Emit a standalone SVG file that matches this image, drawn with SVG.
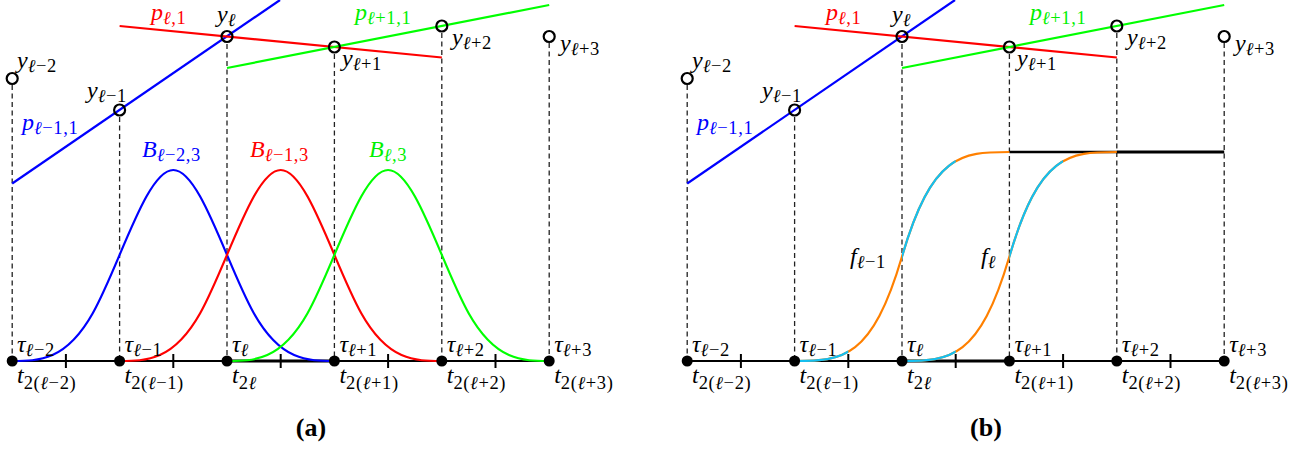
<svg xmlns="http://www.w3.org/2000/svg" xmlns:xlink="http://www.w3.org/1999/xlink" width="1307" height="450" viewBox="0 0 1307 450">
<style>
.t{font-family:"Liberation Serif","DejaVu Serif",serif;font-size:24px;fill:#000}
.i{font-style:italic}
.s{font-size:18.5px;letter-spacing:0.6px}
.bl{fill:#0000ff}.rd{fill:#ff0000}.gr{fill:#00f000}
.cap{font-family:"Liberation Serif","DejaVu Serif",serif;font-size:26px;font-weight:bold;text-anchor:middle}
.dash{stroke:#222;stroke-width:1.3;stroke-dasharray:5 3.5;fill:none}
.ln{fill:none;stroke-width:2.2}
.cb{stroke:#0000ff}.cr{stroke:#ff0000}.cg{stroke:#00ff00}
.co{stroke:#ff8000}.cc{stroke:#14bff0}
.ax{stroke:#000;stroke-width:1.8}
.axt{stroke:#000;stroke-width:3.2}
.tk{stroke:#000;stroke-width:2}
.dot{fill:#000}
.pt{fill:none;stroke:#000;stroke-width:2.2}
</style>
<defs>
<path id="bs" fill="none" d="M0,361 C26.85,361 53.7,361 80.55,313.25 C107.4,265.5 134.25,170 161.1,170 C187.95,170 214.8,265.5 241.65,313.25 C268.5,361 295.35,361 322.2,361"/>
<path id="fc" fill="none" d="M0,361 C48.33,361 77.33,358.91 107.4,256.5 C137.47,154.09 166.47,152 214.8,152"/>
<clipPath id="cy" clipPathUnits="userSpaceOnUse">
<rect x="-5" y="0" width="58.7" height="450"/>
<rect x="107.4" y="0" width="53.7" height="450"/>
</clipPath>
<g id="frame">
<g id="dashes">
<line class="dash" x1="12.2" y1="85" x2="12.2" y2="361"/>
<line class="dash" x1="119.6" y1="117" x2="119.6" y2="361"/>
<line class="dash" x1="227" y1="44" x2="227" y2="361"/>
<line class="dash" x1="334.4" y1="54" x2="334.4" y2="361"/>
<line class="dash" x1="441.8" y1="33" x2="441.8" y2="361"/>
<line class="dash" x1="549.2" y1="43" x2="549.2" y2="361"/>
</g>
<g id="polys">
<line class="ln cb" x1="12.2" y1="183.5" x2="280" y2="0"/>
<line class="ln cr" x1="119.6" y1="26" x2="441.8" y2="57.5"/>
<line class="ln cg" x1="227" y1="68" x2="549.2" y2="5"/>
</g>
<g id="axis">
<line class="ax" x1="12.2" y1="361" x2="227" y2="361"/>
<line class="axt" x1="227" y1="361" x2="334.4" y2="361"/>
<line class="ax" x1="334.4" y1="361" x2="549.2" y2="361"/>
<line class="tk" x1="65.9" y1="354" x2="65.9" y2="368"/>
<line class="tk" x1="173.3" y1="354" x2="173.3" y2="368"/>
<line class="tk" x1="280.7" y1="354" x2="280.7" y2="368"/>
<line class="tk" x1="388.1" y1="354" x2="388.1" y2="368"/>
<line class="tk" x1="495.5" y1="354" x2="495.5" y2="368"/>
</g>
</g>
<g id="frametop">
<g id="knots">
<circle class="dot" cx="12.2" cy="361" r="5.5"/>
<circle class="dot" cx="119.6" cy="361" r="5.5"/>
<circle class="dot" cx="227" cy="361" r="5.5"/>
<circle class="dot" cx="334.4" cy="361" r="5.5"/>
<circle class="dot" cx="441.8" cy="361" r="5.5"/>
<circle class="dot" cx="549.2" cy="361" r="5.5"/>
</g>
<g id="data">
<circle class="pt" cx="12.2" cy="78.5" r="5.5"/>
<circle class="pt" cx="119.6" cy="110" r="5.5"/>
<circle class="pt" cx="227" cy="36.5" r="5.5"/>
<circle class="pt" cx="334.4" cy="47" r="5.5"/>
<circle class="pt" cx="441.8" cy="26" r="5.5"/>
<circle class="pt" cx="549.2" cy="36.5" r="5.5"/>
</g>
<g id="labels">
<text class="t rd" x="151" y="20"><tspan class="i">p</tspan><tspan class="s" dy="4"><tspan class="i">ℓ</tspan>,1</tspan></text>
<text class="t" x="217" y="22"><tspan class="i">y</tspan><tspan class="s i" dy="4">ℓ</tspan></text>
<text class="t gr" x="355" y="20"><tspan class="i">p</tspan><tspan class="s" dy="4"><tspan class="i">ℓ</tspan>+1,1</tspan></text>
<text class="t" x="342" y="66"><tspan class="i">y</tspan><tspan class="s" dy="4"><tspan class="i">ℓ</tspan>+1</tspan></text>
<text class="t" x="452" y="45"><tspan class="i">y</tspan><tspan class="s" dy="4"><tspan class="i">ℓ</tspan>+2</tspan></text>
<text class="t" x="560" y="51"><tspan class="i">y</tspan><tspan class="s" dy="4"><tspan class="i">ℓ</tspan>+3</tspan></text>
<text class="t" x="17" y="68"><tspan class="i">y</tspan><tspan class="s" dy="4"><tspan class="i">ℓ</tspan>−2</tspan></text>
<text class="t" x="87" y="98"><tspan class="i">y</tspan><tspan class="s" dy="4"><tspan class="i">ℓ</tspan>−1</tspan></text>
<text class="t bl" x="22" y="130"><tspan class="i">p</tspan><tspan class="s" dy="4"><tspan class="i">ℓ</tspan>−1,1</tspan></text>
<text class="t" x="17" y="352"><tspan class="i">τ</tspan><tspan class="s" dy="4"><tspan class="i">ℓ</tspan>−2</tspan></text>
<text class="t" x="124.6" y="352"><tspan class="i">τ</tspan><tspan class="s" dy="4"><tspan class="i">ℓ</tspan>−1</tspan></text>
<text class="t" x="232" y="352"><tspan class="i">τ</tspan><tspan class="s i" dy="4">ℓ</tspan></text>
<text class="t" x="339.4" y="352"><tspan class="i">τ</tspan><tspan class="s" dy="4"><tspan class="i">ℓ</tspan>+1</tspan></text>
<text class="t" x="446.8" y="352"><tspan class="i">τ</tspan><tspan class="s" dy="4"><tspan class="i">ℓ</tspan>+2</tspan></text>
<text class="t" x="554.2" y="352"><tspan class="i">τ</tspan><tspan class="s" dy="4"><tspan class="i">ℓ</tspan>+3</tspan></text>
<text class="t" x="17" y="383"><tspan class="i">t</tspan><tspan class="s" dy="6">2(<tspan class="i">ℓ</tspan>−2)</tspan></text>
<text class="t" x="124.6" y="383"><tspan class="i">t</tspan><tspan class="s" dy="6">2(<tspan class="i">ℓ</tspan>−1)</tspan></text>
<text class="t" x="232" y="383"><tspan class="i">t</tspan><tspan class="s" dy="6">2<tspan class="i">ℓ</tspan></tspan></text>
<text class="t" x="339.4" y="383"><tspan class="i">t</tspan><tspan class="s" dy="6">2(<tspan class="i">ℓ</tspan>+1)</tspan></text>
<text class="t" x="446.8" y="383"><tspan class="i">t</tspan><tspan class="s" dy="6">2(<tspan class="i">ℓ</tspan>+2)</tspan></text>
<text class="t" x="554.2" y="383"><tspan class="i">t</tspan><tspan class="s" dy="6">2(<tspan class="i">ℓ</tspan>+3)</tspan></text>
</g>
</g>
</defs>

<g id="panel-a">
<use xlink:href="#frame"/>
<g id="basis-a">
<use xlink:href="#bs" class="ln cb" transform="translate(12.2,0)"/>
<use xlink:href="#bs" class="ln cr" transform="translate(119.6,0)"/>
<use xlink:href="#bs" class="ln cg" transform="translate(227,0)"/>
</g>
<use xlink:href="#frametop"/>
<g id="blabels">
<text class="t bl" x="142" y="157"><tspan class="i">B</tspan><tspan class="s" dy="4"><tspan class="i">ℓ</tspan>−2,3</tspan></text>
<text class="t rd" x="250" y="157"><tspan class="i">B</tspan><tspan class="s" dy="4"><tspan class="i">ℓ</tspan>−1,3</tspan></text>
<text class="t gr" x="369" y="157"><tspan class="i">B</tspan><tspan class="s" dy="4"><tspan class="i">ℓ</tspan>,3</tspan></text>
</g>
<text id="cap-a" class="cap" x="311" y="436">(a)</text>
</g>

<g id="panel-b">
<g transform="translate(675,0)">
<use xlink:href="#frame"/>
</g>
<g id="plateau">
<line stroke="#000" stroke-width="2.6" x1="1009.4" y1="152" x2="1116.8" y2="152"/>
<line stroke="#000" stroke-width="3.2" x1="1116.8" y1="152" x2="1224.2" y2="152"/>
</g>
<g id="f-lm1" transform="translate(794.6,0)">
<use xlink:href="#fc" class="ln co"/>
<use xlink:href="#fc" class="ln cc" clip-path="url(#cy)"/>
</g>
<g id="f-l" transform="translate(902,0)">
<use xlink:href="#fc" class="ln co"/>
<use xlink:href="#fc" class="ln cc" clip-path="url(#cy)"/>
</g>
<g transform="translate(675,0)">
<use xlink:href="#frametop"/>
</g>
<g id="flabels">
<text class="t" x="850" y="264"><tspan class="i">f</tspan><tspan class="s" dy="4"><tspan class="i">ℓ</tspan>−1</tspan></text>
<text class="t" x="981" y="264"><tspan class="i">f</tspan><tspan class="s i" dy="4">ℓ</tspan></text>
</g>
<text id="cap-b" class="cap" x="986" y="436">(b)</text>
</g>
</svg>
